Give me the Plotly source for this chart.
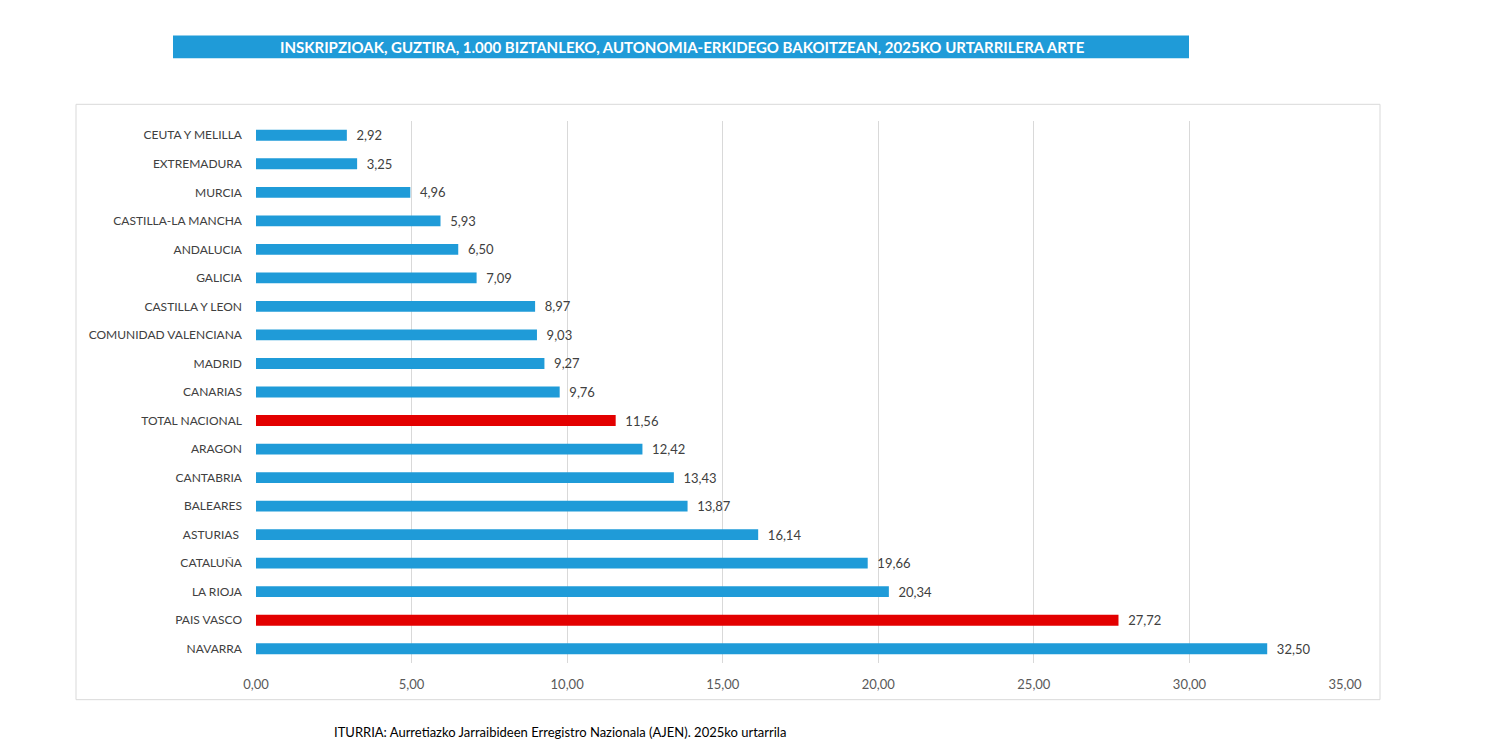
import plotly.graph_objects as go

categories = ["CEUTA Y MELILLA", "EXTREMADURA", "MURCIA", "CASTILLA-LA MANCHA", "ANDALUCIA",
              "GALICIA", "CASTILLA Y LEON", "COMUNIDAD VALENCIANA", "MADRID", "CANARIAS",
              "TOTAL NACIONAL", "ARAGON", "CANTABRIA", "BALEARES", "ASTURIAS ",
              "CATALUÑA", "LA RIOJA", "PAIS VASCO", "NAVARRA"]
values = [2.92, 3.25, 4.96, 5.93, 6.50, 7.09, 8.97, 9.03, 9.27, 9.76,
          11.56, 12.42, 13.43, 13.87, 16.14, 19.66, 20.34, 27.72, 32.50]
highlight = ["TOTAL NACIONAL", "PAIS VASCO"]
x_ticks = [0, 5, 10, 15, 20, 25, 30, 35]

BLUE = "#1F9BD8"
RED = "#E30000"
colors = [RED if c in highlight else BLUE for c in categories]

W, H = 1500, 750
OFF = 8  # page body margin
L, R = 256 - OFF, 1345 - OFF
T, B = 120.7 - OFF, 663.3 - OFF
pw, ph = R - L, B - T

def px(x):
    return (x - OFF - L) / pw

def py(y):
    return (B - (y - OFF)) / ph

FONT = "Lato, 'Open Sans', sans-serif"

fig = go.Figure(go.Bar(
    x=values, y=categories, orientation="h",
    marker=dict(color=colors, line=dict(width=0)),
    text=values, texttemplate="\u00a0\u00a0%{x:.2f}", textposition="outside",
    constraintext="none",
    textfont=dict(family=FONT, size=13, color="#404040"),
    cliponaxis=False,
))

fig.update_layout(
    width=W, height=H,
    margin=dict(l=L, r=W - R, t=T, b=H - B, pad=0),
    paper_bgcolor="white", plot_bgcolor="white",
    separators=",.",
    bargap=0.62,
    showlegend=False,
    xaxis=dict(range=[0, 35], tickvals=x_ticks, tickformat=".2f",
               showgrid=True, gridcolor="#D9D9D9", gridwidth=1,
               zeroline=False, showline=False, ticks="",
               tickfont=dict(family=FONT, size=13, color="#595959"),
               ticklabelstandoff=12, fixedrange=True),
    yaxis=dict(autorange="reversed", showgrid=False, showline=False, ticks="",
               tickfont=dict(family=FONT, size=12, color="#404040"),
               ticklabelstandoff=13, fixedrange=True),
    shapes=[
        dict(type="rect", xref="paper", yref="paper",
             x0=px(76), x1=px(1380), y0=py(700), y1=py(104),
             line=dict(color="#D9D9D9", width=1), fillcolor="rgba(0,0,0,0)", layer="below"),
        dict(type="rect", xref="paper", yref="paper",
             x0=px(173), x1=px(1189), y0=py(58), y1=py(35),
             line=dict(width=0), fillcolor=BLUE, layer="below"),
    ],
    annotations=[
        dict(text="<b>INSKRIPZIOAK, GUZTIRA, 1.000 BIZTANLEKO, AUTONOMIA-ERKIDEGO BAKOITZEAN, 2025KO URTARRILERA ARTE</b>",
             xref="paper", yref="paper", x=px(682), y=py(46.5), xanchor="center", yanchor="middle",
             showarrow=False, font=dict(family=FONT, size=15, color="white")),
        dict(text="ITURRIA: Aurretiazko Jarraibideen Erregistro Nazionala (AJEN). 2025ko urtarrila",
             xref="paper", yref="paper", x=px(332), y=py(732), xanchor="left", yanchor="middle",
             showarrow=False, font=dict(family=FONT, size=13, color="#000000")),
    ],
)

fig.write_html("out.html")
